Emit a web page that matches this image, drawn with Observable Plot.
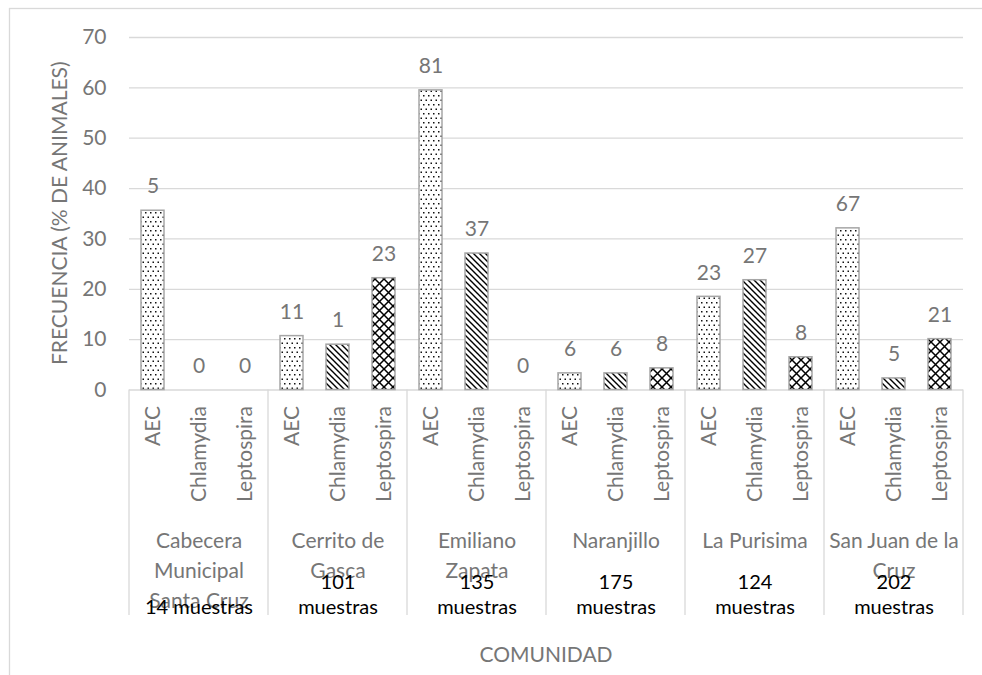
<!DOCTYPE html>
<html>
<head>
<meta charset="utf-8">
<script src="https://cdn.jsdelivr.net/npm/d3@7"></script>
<script src="https://cdn.jsdelivr.net/npm/@observablehq/plot@0.6"></script>
<style>
  body { margin: 0; background: #fff; }
  svg { display: block; }
</style>
</head>
<body>
<div id="chart"></div>
<script>
// Comunidades muestreadas y número de muestras por comunidad
const comunidades = ["Cabecera Municipal Santa Cruz", "Cerrito de Gasca", "Emiliano Zapata", "Naranjillo", "La Purisima", "San Juan de la Cruz"];
const comunidadEtiquetas = ["Cabecera\nMunicipal\nSanta Cruz", "Cerrito de\nGasca", "Emiliano\nZapata", "Naranjillo", "La Purisima", "San Juan de la\nCruz"];
const muestras = [14, 101, 135, 175, 124, 202];

// Agentes evaluados
const series = ["AEC", "Chlamydia", "Leptospira"];

// Frecuencia (% de animales) por agente
const aecPct        = [35.6, 10.7, 59.5, 3.3, 18.5, 32.1];
const chlamydiaPct  = [0,    9.0,  27.1, 3.3, 21.8, 2.3];
const leptospiraPct = [0,    22.2, 0,    4.3, 6.5,  10.1];

// Número de animales positivos por agente
const aecN        = [5, 11, 81, 6, 23, 67];
const chlamydiaN  = [0, 1,  37, 6, 27, 5];
const leptospiraN = [0, 23, 0,  8, 8,  21];

// Marcas del eje Y
const yTicks = [0, 10, 20, 30, 40, 50, 60, 70];

const pctPorSerie = [aecPct, chlamydiaPct, leptospiraPct];
const nPorSerie = [aecN, chlamydiaN, leptospiraN];

const rows = [];
comunidades.forEach((c, i) => {
  series.forEach((s, j) => {
    rows.push({comunidad: c, serie: s, pct: pctPorSerie[j][i], n: nPorSerie[j][i]});
  });
});

const grupos = comunidades.map((c, i) => ({
  comunidad: c,
  etiqueta: comunidadEtiquetas[i],
  muestrasTexto: i === 0 ? `${muestras[i]} muestras` : `${muestras[i]}\nmuestras`
}));

const patronId = {AEC: "pat-aec", Chlamydia: "pat-chl", Leptospira: "pat-lep"};
const gris = "#767676";
const lineaGris = "#d9d9d9";

const chart = Plot.plot({
  width: 982,
  height: 675,
  marginLeft: 127,
  marginRight: 17,
  marginTop: 37,
  marginBottom: 285.5,
  style: {fontFamily: "Lato, sans-serif", fontSize: "21px", color: gris, background: "white", overflow: "visible"},
  fx: {domain: comunidades, padding: 0, axis: null},
  x: {domain: series, paddingInner: 0.5, paddingOuter: 0.25, tickRotate: -90, tickSize: 0, tickPadding: 16, label: null},
  y: {domain: [0, 70], ticks: 7, tickSize: 0, tickPadding: 23, label: null},
  marks: [
    Plot.ruleY(yTicks, {stroke: lineaGris, strokeWidth: 1.3}),
    ...series.map(s => Plot.barY(rows.filter(d => d.serie === s), {
      fx: "comunidad", x: "serie", y: "pct",
      fill: `url(#${patronId[s]})`, stroke: "#a6a6a6", strokeWidth: 1.5
    })),
    Plot.text(rows, {fx: "comunidad", x: "serie", y: "pct", text: d => String(d.n), dy: -24, fill: gris}),
    Plot.text(grupos, {fx: "comunidad", frameAnchor: "bottom", text: "etiqueta", lineAnchor: "top", lineHeight: 1.43, dy: 137, fill: gris}),
    Plot.text(grupos, {fx: "comunidad", frameAnchor: "bottom", text: "muestrasTexto", lineAnchor: "bottom", lineHeight: 1.25, dy: 224, fill: "#000", fontSize: 20})
  ]
});

const svg = d3.select(chart);

// Patrones de relleno de las barras
const defs = svg.insert("defs", ":first-child");
const pAec = defs.append("pattern").attr("id", "pat-aec").attr("patternUnits", "userSpaceOnUse").attr("width", 5).attr("height", 9);
pAec.append("rect").attr("width", 5).attr("height", 9).attr("fill", "#fff");
pAec.append("rect").attr("x", 0.5).attr("y", 0.5).attr("width", 1.5).attr("height", 1.5).attr("fill", "#111");
pAec.append("rect").attr("x", 3).attr("y", 5).attr("width", 1.5).attr("height", 1.5).attr("fill", "#111");

const pChl = defs.append("pattern").attr("id", "pat-chl").attr("patternUnits", "userSpaceOnUse").attr("width", 6).attr("height", 6);
pChl.append("rect").attr("width", 6).attr("height", 6).attr("fill", "#fff");
pChl.append("path").attr("d", "M-1,-1 L7,7 M-1,5 L1,7 M5,-1 L7,1").attr("stroke", "#000").attr("stroke-width", 1.4);

const pLep = defs.append("pattern").attr("id", "pat-lep").attr("patternUnits", "userSpaceOnUse").attr("width", 9).attr("height", 9);
pLep.append("rect").attr("width", 9).attr("height", 9).attr("fill", "#fff");
pLep.append("path").attr("d", "M0,0 L9,9 M9,0 L0,9").attr("stroke", "#000").attr("stroke-width", 1.5);

// Líneas divisorias de las comunidades bajo el eje
const fx = chart.scale("fx");
const y = chart.scale("y");
const y0 = y.apply(0);
const bordes = comunidades.map(c => fx.apply(c));
bordes.push(fx.apply(comunidades[comunidades.length - 1]) + fx.bandwidth);
svg.append("g")
  .selectAll("line")
  .data(bordes)
  .join("line")
  .attr("x1", d => d).attr("x2", d => d)
  .attr("y1", y0).attr("y2", 615)
  .attr("stroke", lineaGris).attr("stroke-width", 1.3);

// Título del eje Y
svg.append("text")
  .attr("transform", `translate(60,${(y.apply(0) + y.apply(70)) / 2}) rotate(-90)`)
  .attr("text-anchor", "middle")
  .attr("dy", "0.35em")
  .attr("fill", gris)
  .attr("font-family", "Lato, sans-serif")
  .attr("font-size", 21)
  .text("FRECUENCIA (% DE ANIMALES)");

// Título del eje X
svg.append("text")
  .attr("x", (bordes[0] + bordes[bordes.length - 1]) / 2)
  .attr("y", 655)
  .attr("text-anchor", "middle")
  .attr("dy", "0.35em")
  .attr("fill", gris)
  .attr("font-family", "Lato, sans-serif")
  .attr("font-size", 21)
  .text("COMUNIDAD");

// Borde del área del gráfico
svg.append("rect")
  .attr("x", 9.5).attr("y", 8.5)
  .attr("width", 980).attr("height", 672)
  .attr("fill", "none").attr("stroke", lineaGris).attr("stroke-width", 1.3);

document.getElementById("chart").appendChild(chart);
</script>
</body>
</html>
